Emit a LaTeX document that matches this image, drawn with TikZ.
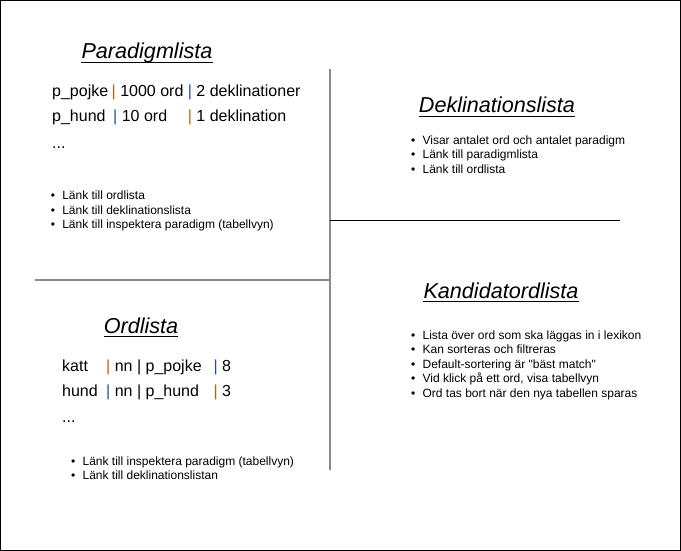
\documentclass[tikz,border=0pt]{standalone}
\usepackage{fontspec}
\setmainfont{Liberation Sans}[Ligatures=TeXOff]
\usetikzlibrary{positioning}

\definecolor{pipeorange}{HTML}{B8620E}
\definecolor{pipeblue}{HTML}{1F4F9F}
\definecolor{linegray}{HTML}{8A8A8A}

\newcommand{\opipe}{\textcolor{pipeorange}{|}}
\newcommand{\bpipe}{\textcolor{pipeblue}{|}}
\newcommand{\cellbox}[2]{\makebox[#1][l]{#2}}
\newcommand{\bitem}{\makebox[11.5pt][l]{\textbullet}}

\begin{document}
\begin{tikzpicture}[
    x=1pt, y=-1pt,
    title/.style={font=\fontsize{21.6}{24}\selectfont\itshape, inner sep=0pt, anchor=base},
    row/.style={font=\fontsize{16}{19}\selectfont, inner sep=0pt, anchor=base west},
    bullets/.style={font=\fontsize{12}{14.6}\selectfont, inner sep=0pt, anchor=base west, align=left},
    uline/.style={line width=0.9pt},
    divider/.style={line width=1.6pt, draw=linegray}
]
\useasboundingbox (0,0) rectangle (681,551);
\draw[line width=1.3pt] (0.8,0.8) rectangle (680.2,550.2);

% dividers
\draw[divider] (330,69) -- (330,470);
\draw[divider, line width=1.2pt] (35,280) -- (330,280);
\draw[line width=0.9pt] (330,220.5) -- (620,220.5);

% Paradigmlista
\node[title] (par) at (147,59) {Paradigmlista};
\node[row] (par1) at (52,96.7) {\cellbox{59.5pt}{p\_pojke}\opipe\cellbox{72pt}{\ 1000 ord}\bpipe\ 2 deklinationer};
\node[row] (par2) at (52,121.7) {\cellbox{61pt}{p\_hund}\bpipe\cellbox{70.5pt}{\ 10 ord}\opipe\ 1 deklination};
\node[row] (par3) at (52,148) {...};
% base anchor sits on the last line
\node[bullets] (parb) at (50.6,228.7) {\bitem Länk till ordlista\\ \bitem Länk till deklinationslista\\ \bitem Länk till inspektera paradigm (tabellvyn)};

% Deklinationslista
\node[title] (dek) at (497,113) {Deklinationslista};
\node[bullets] (dekb) at (410.9,173.2) {\bitem Visar antalet ord och antalet paradigm\\ \bitem Länk till paradigmlista\\ \bitem Länk till ordlista};

% Ordlista
\node[title] (ord) at (141,333) {Ordlista};
\node[row] (ord1) at (62,371.7) {\cellbox{44pt}{katt}\opipe\ nn | \cellbox{68pt}{p\_pojke}\bpipe\ 8};
\node[row] (ord2) at (62,396.7) {\cellbox{44pt}{hund}\bpipe\ nn | \cellbox{68pt}{p\_hund}\opipe\ 3};
\node[row] (ord3) at (62,422.7) {...};
\node[bullets] (ordb) at (70.9,479.6) {\bitem Länk till inspektera paradigm (tabellvyn)\\ \bitem Länk till deklinationslistan};

% Kandidatordlista
\node[title] (kan) at (501,298) {Kandidatordlista};
\node[bullets] (kanb) at (410.9,397.4) {\bitem Lista över ord som ska läggas in i lexikon\\ \bitem Kan sorteras och filtreras\\ \bitem Default-sortering är "bäst match"\\ \bitem Vid klick på ett ord, visa tabellvyn\\ \bitem Ord tas bort när den nya tabellen sparas};

% underlines
\foreach \t in {par,dek,ord,kan}
  \draw[uline] ([yshift=-3.5pt]\t.base west) -- ([yshift=-3.5pt]\t.base east);
\end{tikzpicture}
\end{document}
